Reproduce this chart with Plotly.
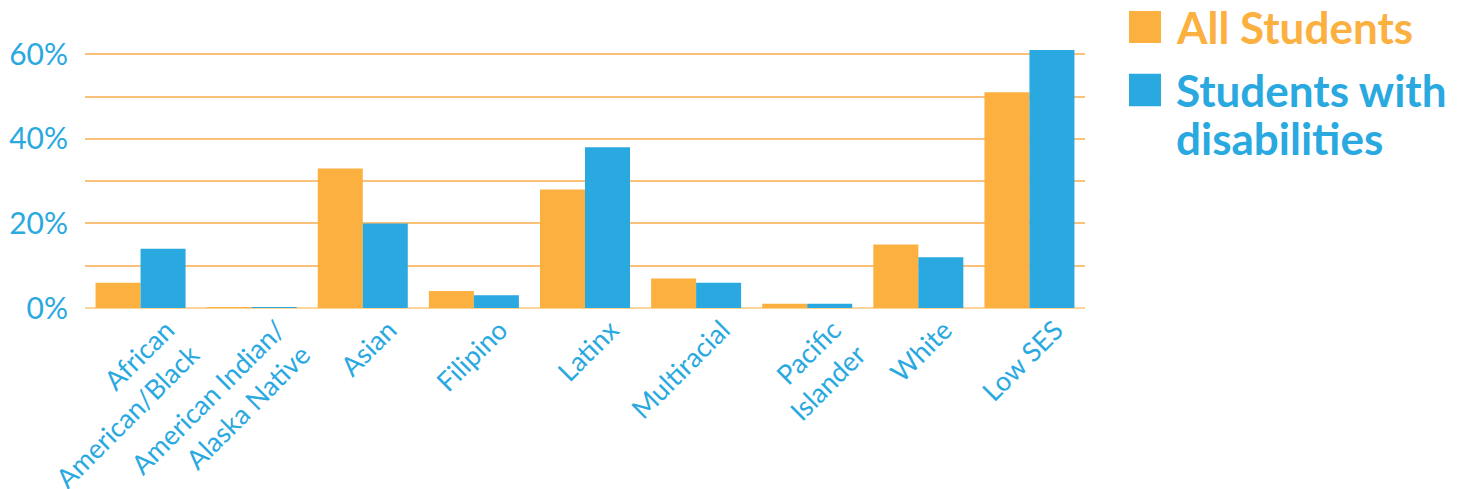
import plotly.graph_objects as go

# categories and values (percent)
groups = ["African<br>American/Black", "American Indian/<br>Alaska Native", "Asian", "Filipino",
          "Latinx", "Multiracial", "Pacific<br>Islander", "White", "Low SES"]
all_students = [6, 0.2, 33, 4, 28, 7, 1, 15, 51]
swd = [14, 0.2, 20, 3, 38, 6, 1, 12, 61]

ORANGE = "#FBB040"
BLUE = "#29A9E0"
GRID = "#F9C278"
FONT = "Lato"

fig = go.Figure()
fig.add_trace(go.Bar(x=groups, y=all_students, name="All Students", marker_color=ORANGE, marker_line_width=0))
fig.add_trace(go.Bar(x=groups, y=swd, name="Students with disabilities", marker_color=BLUE, marker_line_width=0))

# page body has an 8px margin, so the figure is a bit smaller and shifted
fig.update_layout(
    width=1454, height=481,
    margin=dict(l=77, r=377, t=4, b=181, autoexpand=False),
    paper_bgcolor="white", plot_bgcolor="white",
    barmode="group", bargap=0.19, bargroupgap=0,
    showlegend=False,
    font=dict(family=FONT, color=BLUE),
    xaxis=dict(tickangle=-45, tickfont=dict(size=27, color=BLUE), showgrid=False, automargin=False,
               showline=False, ticks="", ticklabelshift=26, ticklabelstandoff=0),
    yaxis=dict(range=[0, 70], tickvals=[0, 20, 40, 60], ticktext=["0%", "20%", "40%", "60%"],
               tickfont=dict(size=30, color=BLUE), showgrid=True, gridcolor=GRID, gridwidth=1.5,
               minor=dict(tickvals=[10, 30, 50, 70], showgrid=True, gridcolor=GRID, gridwidth=1.5),
               zeroline=True, zerolinecolor="#FDD49A", zerolinewidth=2, ticks="",
               ticklabelstandoff=16, automargin=False),
)

# legend drawn by hand with big squares and coloured text
fig.add_shape(type="rect", xref="paper", yref="paper", x0=1.044, x1=1.076, y0=0.895, y1=1.003,
              fillcolor=ORANGE, line_width=0)
fig.add_shape(type="rect", xref="paper", yref="paper", x0=1.044, x1=1.076, y0=0.682, y1=0.791,
              fillcolor=BLUE, line_width=0)
legend_lines = [("All Students", ORANGE, 0.949), ("Students with", BLUE, 0.737), ("disabilities", BLUE, 0.575)]
for txt, col, yy in legend_lines:
    fig.add_annotation(text="<b>" + txt + "</b>", xref="paper", yref="paper", x=1.089, y=yy,
                       xanchor="left", yanchor="middle", showarrow=False,
                       font=dict(size=44, color=col, family=FONT))

fig.write_html("out.html")
